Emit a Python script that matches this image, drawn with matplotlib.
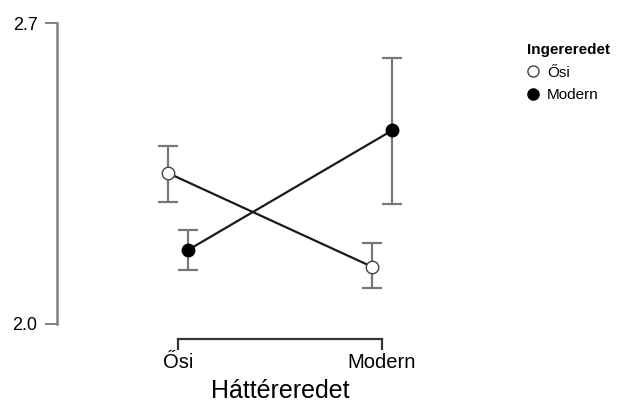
import numpy as np
import matplotlib.pyplot as plt
from matplotlib.lines import Line2D

plt.rcParams['font.family'] = ['Liberation Sans', 'DejaVu Sans']

# DATA
categories = ['Ősi', 'Modern']
series = ['Ősi', 'Modern']
means = {'Ősi': [2.351, 2.133], 'Modern': [2.172, 2.450]}
lower = {'Ősi': [2.283, 2.083], 'Modern': [2.126, 2.279]}
upper = {'Ősi': [2.415, 2.188], 'Modern': [2.219, 2.619]}
yticks = [2.0, 2.7]
ytick_labels = ['2.0', '2.7']

# FIGURE
fig = plt.figure(figsize=(6.22, 4.03), dpi=100)
W, H = 622, 403
left, right, top, bottom = 57, 470, 23, 339
ax = fig.add_axes([left / W, 1 - bottom / H, (right - left) / W, (bottom - top) / H])

x = np.arange(len(categories))
dodge = 0.049
styles = {'Ősi': dict(mfc='white', mec='#444444'), 'Modern': dict(mfc='black', mec='black')}

for i, s in enumerate(series):
    xs = x + (-dodge if i == 0 else dodge)
    m = np.array(means[s])
    err = [m - np.array(lower[s]), np.array(upper[s]) - m]
    ax.errorbar(xs, m, yerr=err, fmt='none', ecolor='#777777', elinewidth=1.6,
                capsize=7.2, capthick=1.6, zorder=1)
    ax.plot(xs, m, color='#1a1a1a', lw=1.6, zorder=2)
    ax.plot(xs, m, 'o', ms=9, mew=1.0, zorder=3, **styles[s])

xlo, xhi = -0.593, 1.431
ax.set_xlim(xlo, xhi)
ax.set_ylim(2.0 - 15 / 429.5, 2.7)

for sp in ['top', 'right']:
    ax.spines[sp].set_visible(False)
ax.spines['left'].set_bounds(2.0, 2.7)
ax.spines['left'].set_color('#808080')
ax.spines['left'].set_linewidth(1.8)
ax.spines['bottom'].set_bounds(0, 1)
ax.spines['bottom'].set_color('#333333')
ax.spines['bottom'].set_linewidth(1.6)

ax.set_yticks(yticks)
ax.set_yticklabels(ytick_labels)
ax.set_xticks(x)
ax.set_xticklabels(categories)
ax.tick_params(axis='y', length=9, width=1.4, color='#808080', labelsize=13, pad=5)
ax.tick_params(axis='x', length=8, width=1.6, color='#333333', labelsize=14.5, pad=2, direction='out')
ax.set_xlabel('Háttéreredet', fontsize=18)
ax.xaxis.set_label_coords((0.5 - xlo) / (xhi - xlo), -0.128)

handles = [Line2D([], [], ls='none', marker='o', ms=8, mfc='white', mec='#444444', mew=1.0),
           Line2D([], [], ls='none', marker='o', ms=8, mfc='black', mec='black')]
leg = fig.legend(handles, series, title='Ingereredet', loc='upper left',
                 bbox_to_anchor=(521 / W, 1 - 37 / H), frameon=False, fontsize=11,
                 title_fontproperties={'weight': 'bold', 'size': 11},
                 alignment='left', handlelength=0.8, handletextpad=0.5,
                 labelspacing=0.55, borderaxespad=0)

fig.savefig('out.png', dpi=100)
